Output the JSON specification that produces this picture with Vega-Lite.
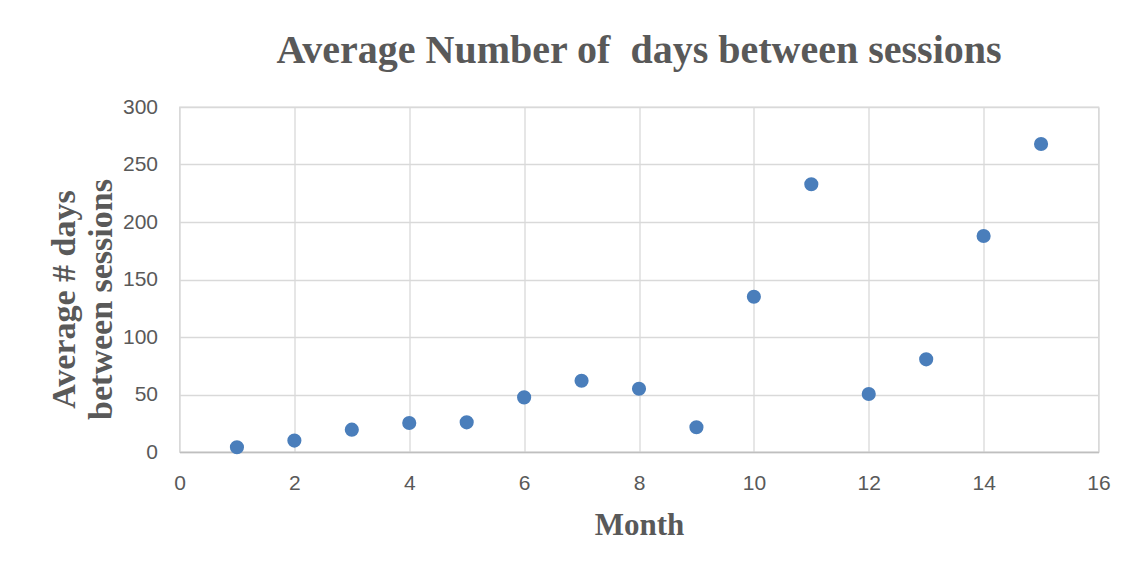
{
  "$schema": "https://vega.github.io/schema/vega-lite/v6.json",
  "autosize": "none",
  "width": 919,
  "height": 345,
  "padding": {"left": 179.5, "top": 107, "right": 33.5, "bottom": 119},
  "background": "white",
  "title": {
    "text": "Average Number of\u00a0 days between sessions",
    "font": "Liberation Serif",
    "fontSize": 40,
    "fontWeight": "bold",
    "color": "#595959",
    "anchor": "middle",
    "baseline": "alphabetic",
    "offset": -7
  },
  "data": {
    "values": [
      {"month": 1, "avg_days": 4.1},
      {"month": 2, "avg_days": 9.9},
      {"month": 3, "avg_days": 19.4},
      {"month": 4, "avg_days": 25.2},
      {"month": 5, "avg_days": 25.8},
      {"month": 6, "avg_days": 47.5},
      {"month": 7, "avg_days": 62},
      {"month": 8, "avg_days": 55},
      {"month": 9, "avg_days": 21.5},
      {"month": 10, "avg_days": 135},
      {"month": 11, "avg_days": 232.8},
      {"month": 12, "avg_days": 50.4},
      {"month": 13, "avg_days": 80.6},
      {"month": 14, "avg_days": 187.8},
      {"month": 15, "avg_days": 267.8}
    ]
  },
  "mark": {"type": "circle", "size": 200, "opacity": 1, "color": "#4a7ebb"},
  "encoding": {
    "x": {
      "field": "month",
      "type": "quantitative",
      "scale": {"domain": [0, 16], "nice": false, "zero": false},
      "axis": {
        "title": "Month",
        "values": [0, 2, 4, 6, 8, 10, 12, 14, 16],
        "ticks": false,
        "domain": true,
        "domainColor": "#bfbfbf",
        "domainWidth": 1.5,
        "grid": true,
        "gridColor": "#d9d9d9",
        "gridWidth": 1.3,
        "labelFlush": false,
        "labelFont": "Liberation Sans",
        "labelFontSize": 21,
        "labelColor": "#595959",
        "labelPadding": 20,
        "titleFont": "Liberation Serif",
        "titleFontSize": 31,
        "titleFontWeight": "bold",
        "titleColor": "#595959",
        "titlePadding": 17
      }
    },
    "y": {
      "field": "avg_days",
      "type": "quantitative",
      "scale": {"domain": [0, 300], "nice": false},
      "axis": {
        "title": ["Average # days", "between sessions"],
        "values": [0, 50, 100, 150, 200, 250, 300],
        "ticks": false,
        "domain": false,
        "grid": true,
        "gridColor": "#d9d9d9",
        "gridWidth": 1.3,
        "labelFlush": false,
        "labelFont": "Liberation Sans",
        "labelFontSize": 21,
        "labelColor": "#595959",
        "labelPadding": 22,
        "titleFont": "Liberation Serif",
        "titleFontSize": 34,
        "titleFontWeight": "bold",
        "titleColor": "#595959",
        "titleLineHeight": 37,
        "titlePadding": 4,
        "titleY": 192
      }
    }
  },
  "config": {
    "view": {"stroke": "#d9d9d9", "strokeWidth": 1.3}
  }
}
